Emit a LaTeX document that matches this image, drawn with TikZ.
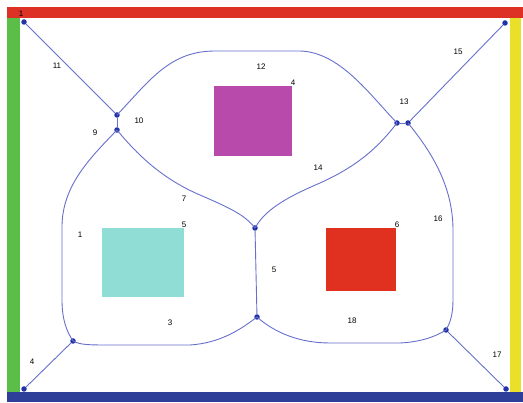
\documentclass[tikz,border=0pt]{standalone}
\usepackage{fontspec}
\setmainfont{Liberation Sans}
\definecolor{barred}{HTML}{DC3124}
\definecolor{bargreen}{HTML}{5BBE48}
\definecolor{barblue}{HTML}{2E3F9A}
\definecolor{baryellow}{HTML}{EAE02A}
\definecolor{edgecol}{HTML}{6670CC}
\definecolor{dotcol}{HTML}{2233AA}
\definecolor{magentabox}{HTML}{B84AAB}
\definecolor{cyanbox}{HTML}{8FDDD5}
\definecolor{redbox}{HTML}{E03020}
\begin{document}
\begin{tikzpicture}[x=1pt,y=-1pt,
  edge/.style={draw=edgecol,line width=0.9pt},
  vtx/.style={circle,fill=dotcol,inner sep=0pt,minimum size=5.5pt},
  lbl/.style={font=\fontsize{8}{9}\selectfont,inner sep=0pt}]
\useasboundingbox (0,0) rectangle (523,403);
\fill[white] (0,0) rectangle (523,403);
% frame bars
\fill[barred] (7,7) rectangle (523,18);
\fill[bargreen] (7,18) rectangle (20,392);
\fill[barblue] (7,392) rectangle (523,402);
\fill[baryellow] (510,18) rectangle (521,392);
% rectangles
\fill[magentabox] (214,86) rectangle (292,156);
\fill[cyanbox] (102,228) rectangle (184,297);
\fill[redbox] (326,228) rectangle (396,291);
% vertices
\node[vtx] (v1) at (24,22) {};
\node[vtx] (v2) at (117,115) {};
\node[vtx] (v3) at (117,130) {};
\node[vtx] (v4) at (505,23) {};
\node[vtx] (v5) at (397,123) {};
\node[vtx] (v6) at (408,123) {};
\node[vtx] (v7) at (255,228) {};
\node[vtx] (v8) at (257,317) {};
\node[vtx] (v9) at (73,341) {};
\node[vtx] (v10) at (24,389) {};
\node[vtx] (v11) at (446,330) {};
\node[vtx] (v12) at (506,389) {};
% edges
\draw[edge] (v1) -- (v2);
\draw[edge] (v2) -- (v3);
\draw[edge] (v5) -- (v6);
\draw[edge] (v6) -- (v4);
\draw[edge] (v10) -- (v9);
\draw[edge] (v11) -- (v12);
\draw[edge] (v7) -- (v8);
\draw[edge] (v2.center) .. controls (150,80) and (170,51) .. (215,51) -- (300,51) .. controls (340,52) and (370,95) .. (v5.center);
\draw[edge] (v3.center) .. controls (90,158) and (63,185) .. (62,225) -- (62,300) .. controls (62,320) and (67,332) .. (v9.center);
\draw[edge] (v9.center) .. controls (80,345) and (90,345) .. (110,345) -- (190,345) .. controls (220,343) and (240,330) .. (v8.center);
\draw[edge] (v8.center) .. controls (275,333) and (300,343) .. (330,343) -- (400,343) .. controls (420,342) and (435,337) .. (v11.center);
\draw[edge] (v6.center) .. controls (430,150) and (453,185) .. (453,230) -- (453,300) .. controls (453,315) and (450,323) .. (v11.center);
\draw[edge] (v3.center) .. controls (140,158) and (165,180) .. (200,195) .. controls (230,208) and (245,215) .. (v7.center);
\draw[edge] (v5.center) .. controls (380,145) and (360,165) .. (320,183) .. controls (285,198) and (265,210) .. (v7.center);
% labels
\node[lbl] (l1a) at (21,14) {1};
\node[lbl] (l11) at (57,66) {11};
\node[lbl] (l10) at (139,121) {10};
\node[lbl] (l9) at (95,133) {9};
\node[lbl] (l12) at (261,67) {12};
\node[lbl] (l4a) at (293,83) {4};
\node[lbl] (l13) at (404,102) {13};
\node[lbl] (l15) at (458,52) {15};
\node[lbl] (l14) at (318,168) {14};
\node[lbl] (l7) at (184,199) {7};
\node[lbl] (l5a) at (184,225) {5};
\node[lbl] (l1b) at (80,235) {1};
\node[lbl] (l6) at (397,225) {6};
\node[lbl] (l16) at (438,219) {16};
\node[lbl] (l5b) at (274,270) {5};
\node[lbl] (l3) at (170,323) {3};
\node[lbl] (l18) at (352,321) {18};
\node[lbl] (l4b) at (32,362) {4};
\node[lbl] (l17) at (497,355) {17};
\end{tikzpicture}
\end{document}
